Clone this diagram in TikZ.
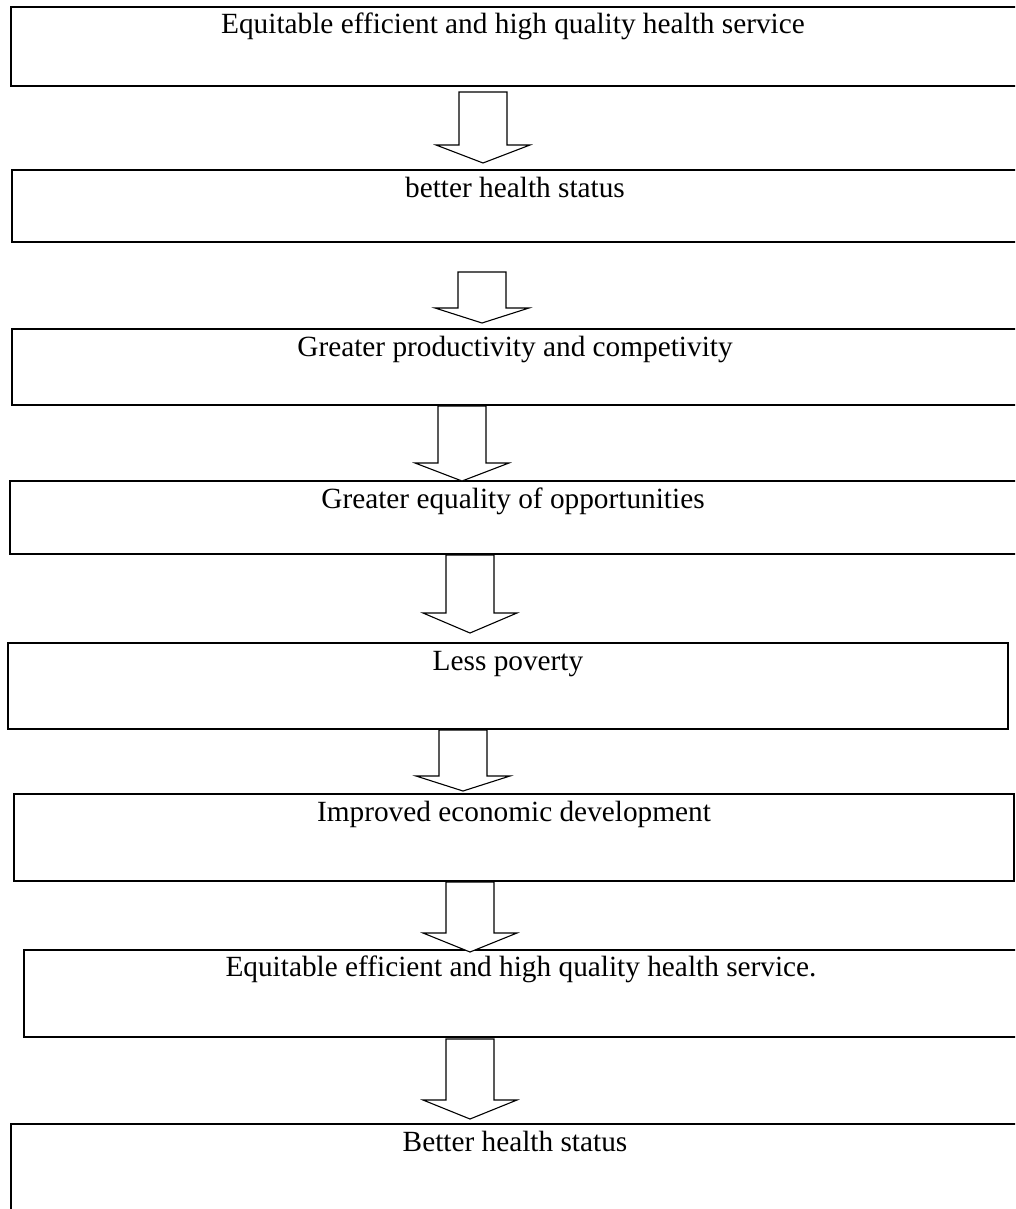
\documentclass[tikz,border=0pt]{standalone}
\usepackage{fontspec}
\setmainfont{Liberation Serif}
\tikzset{
  boxnode/.style={draw=black, line width=2pt, rectangle, inner sep=0pt, outer sep=0pt},
  lbl/.style={inner sep=0pt, outer sep=0pt, font=\fontsize{29.3}{35}\selectfont, anchor=base},
  blockarrow/.style={draw=black, line width=1.1pt, fill=white, line join=miter}
}
\newcommand\barrow[4]{%
  \draw[blockarrow] ({#1-24},#2) -- ({#1+24},#2) -- ({#1+24},#3) -- ({#1+47},#3)
    -- (#1,#4) -- ({#1-47},#3) -- ({#1-24},#3) -- cycle;}
\begin{document}
\begin{tikzpicture}[x=1pt,y=-1pt]
\useasboundingbox (0,0) rectangle (1015,1209);
\clip (0,0) rectangle (1015,1209);
\fill[white] (0,0) rectangle (1015,1209);
% boxes (right edges of most run past the page edge)
\node[boxnode, minimum width=1012pt, minimum height=79pt]  (b1) at (517,46.5) {};
\node[boxnode, minimum width=1012pt, minimum height=72pt]  (b2) at (518,206) {};
\node[boxnode, minimum width=1012pt, minimum height=76pt]  (b3) at (518,367) {};
\node[boxnode, minimum width=1014pt, minimum height=73pt]  (b4) at (517,517.5) {};
\node[boxnode, minimum width=1000pt, minimum height=86pt]  (b5) at (508,686) {};
\node[boxnode, minimum width=1000pt, minimum height=87pt]  (b6) at (514,837.5) {};
\node[boxnode, minimum width=1000pt, minimum height=87pt]  (b7) at (524,993.5) {};
\node[boxnode, minimum width=1012pt, minimum height=106pt] (b8) at (517,1177) {};
% labels
\node[lbl] (t1) at (513,34)   {Equitable efficient and high quality health service};
\node[lbl] (t2) at (515,197)  {better health status};
\node[lbl] (t3) at (515,356)  {Greater productivity and competivity};
\node[lbl] (t4) at (513,508)  {Greater equality of opportunities};
\node[lbl] (t5) at (508,670)  {Less poverty};
\node[lbl] (t6) at (514,821)  {Improved economic development};
\node[lbl] (t7) at (521,976)  {Equitable efficient and high quality health service.};
\node[lbl] (t8) at (515,1151) {Better health status};
% block arrows between boxes
\barrow{483}{92}{145}{163}
\barrow{482}{272}{308}{323}
\barrow{462}{406}{463}{481}
\barrow{470}{555}{613}{633}
\barrow{463}{730}{776}{791}
\barrow{470}{882}{933}{952}
\barrow{470}{1039}{1100}{1119}
\end{tikzpicture}
\end{document}
